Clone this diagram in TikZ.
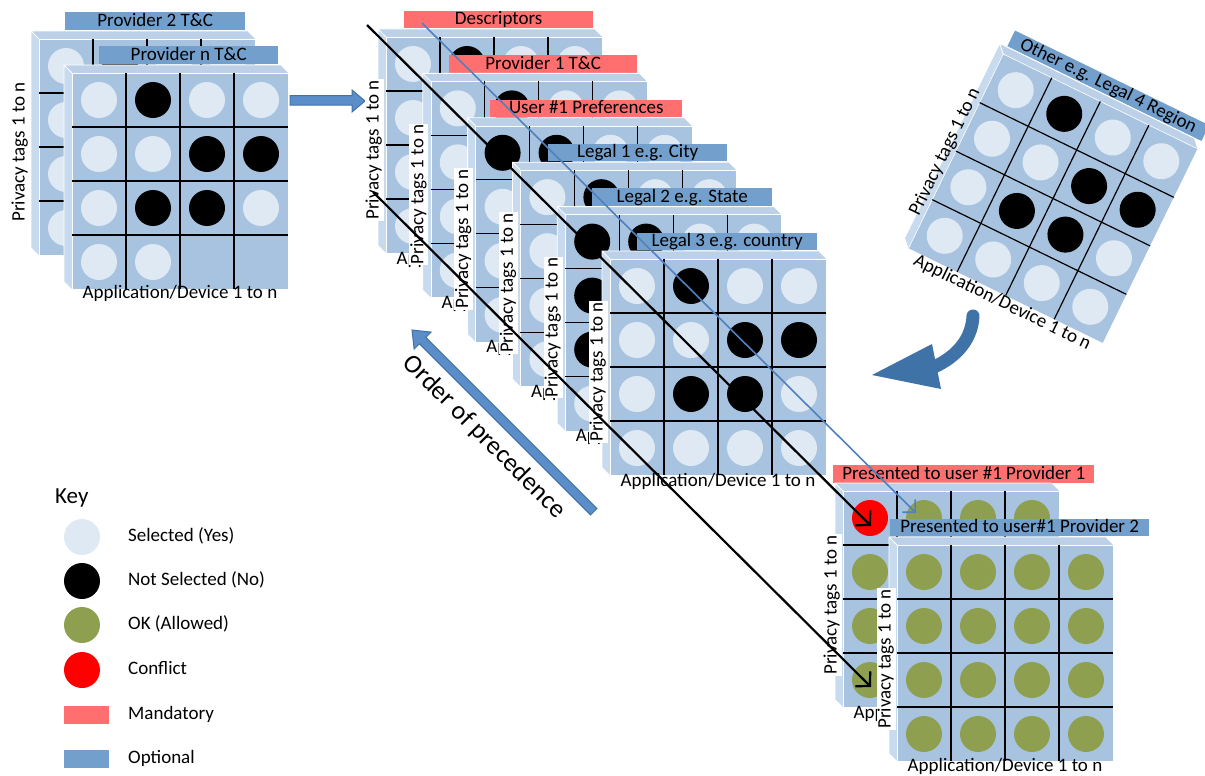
\documentclass[tikz,border=0pt]{standalone}
\usepackage{fontspec}
\setmainfont{Carlito}
\usetikzlibrary{arrows.meta}
\definecolor{face}{HTML}{A7C3DF}
\definecolor{bevtop}{HTML}{BCD1E7}
\definecolor{bevleft}{HTML}{C8DAED}
\definecolor{cl}{HTML}{DFE9F3}
\definecolor{cg}{HTML}{8EA04F}
\definecolor{cr}{HTML}{FF0000}
\definecolor{mand}{HTML}{FF6F6F}
\definecolor{opt}{HTML}{729FCB}
\definecolor{arrb}{HTML}{4F81BD}
\definecolor{arrf}{HTML}{5B8DC8}
\definecolor{arrd}{HTML}{3F73A8}
\newcommand\fs{\fontsize{19}{19}\selectfont}
\def\patStd{cl,black,cl,cl,cl,cl,black,black,cl,black,black,cl,cl,cl,cl,cl}
\def\patFront{cl,black,cl,cl,cl,cl,black,black,cl,black,black,cl,cl,cl,none,none}
\def\patUser{black,black,cl,cl,cl,cl,black,black,cl,black,black,cl,cl,cl,cl,cl}
\def\patLegB{black,black,cl,cl,black,cl,black,black,black,black,black,cl,cl,cl,cl,cl}
\def\patA{cr,cg,cg,cg,cg,cg,cg,cg,cg,cg,cg,cg,cg,cg,cg,cg}
\def\patB{cg,cg,cg,cg,cg,cg,cg,cg,cg,cg,cg,cg,cg,cg,cg,cg}
\newcommand\pnl[4]{%
\begin{scope}[shift={(#2,#3)}]
  \fill[bevtop] (0,0) -- (216,0) -- (224,8) -- (8,8) -- cycle;
  \fill[bevleft] (0,0) -- (8,8) -- (8,224) -- (0,216) -- cycle;
  \draw[white, line width=0.8pt] (0,216) -- (0,0) -- (216,0) (0,0) -- (8,8);
  \node[facebox] (#1) at (116,116) {};
  \draw[white, line width=0.6pt] (8,224) -- (8,8) -- (224,8);
  \foreach \cc [count=\ii from 0] in #4 {
    \pgfmathtruncatemacro\col{mod(\ii,4)}
    \pgfmathtruncatemacro\row{floor(\ii/4)}
    \path[fill=\cc] ({35+54*\col},{35+54*\row}) circle[radius=18pt];
  }
  \foreach \k in {1,2,3} {
    \draw[gridl] ({8+54*\k},8) -- ({8+54*\k},224);
    \draw[gridl] (8,{8+54*\k}) -- (224,{8+54*\k});
  }
\end{scope}}
\begin{document}
\begin{tikzpicture}[x=1pt,y=-1pt,
  facebox/.style={fill=face, minimum size=216pt, inner sep=0pt, draw=none},
  gridl/.style={black, line width=1.2pt},
  tbar/.style={fill=#1, minimum height=17.5pt, inner sep=0pt, font=\fs, anchor=north west, text height=14pt, text depth=3.5pt},
  ylab/.style={rotate=90, fill=white, inner xsep=1pt, inner ysep=0pt, font=\fs, text height=14pt, text depth=5pt},
  xlab/.style={font=\fs, inner sep=0pt, anchor=base},
  keyl/.style={font=\fs, anchor=west, inner sep=0pt, text height=13pt, text depth=4pt},
  kcirc/.style={circle, minimum size=36pt, inner sep=0pt, fill=#1},
  krect/.style={minimum width=45pt, minimum height=18pt, inner sep=0pt, fill=#1},
  blkarr/.style={black, line width=2.2pt, -{Straight Barb[length=10pt,width=21pt]}},
  bluarr/.style={arrb, line width=1.6pt, -{Straight Barb[length=9pt,width=18pt]}},
  blockarr/.style={fill=arrf, draw=arrd, line width=1pt, line join=miter}]
\useasboundingbox (0,0) rectangle (1205,776);

% ---------- left group ----------
\node[tbar=opt, minimum width=180pt] (tProv2) at (65,12) {Provider 2 T\&C};
\pnl{pProv2}{31}{31}{\patStd}
\node[ylab] (yProv2) at (20,152) {Privacy tags 1 to n};
\node[tbar=opt, minimum width=179pt] (tProvN) at (99,46) {Provider n T\&C};
\pnl{pProvN}{64}{65}{\patFront}
\node[xlab] (xProvN) at (180,298) {Application/Device 1 to n};

% group arrow
\filldraw[blockarr] (290,95.5) -- (352,95.5) -- (352,90) -- (365,101) -- (352,112) -- (352,105) -- (290,105) -- cycle;

% ---------- middle group ----------
\node[tbar=mand, minimum width=189pt] (tDesc) at (404,10.5) {Descriptors};
\pnl{pDesc}{378}{29}{\patStd}
\node[ylab] (yDesc) at (374,150) {Privacy tags 1 to n};
\node[xlab] (xDesc) at (494,264) {Application/Device 1 to n};

\node[tbar=mand, minimum width=188pt] (tProv1) at (449,55) {Provider 1 T\&C};
\pnl{pProv1}{422.8}{73.4}{\patStd}
\node[ylab] (yProv1) at (418.8,194.4) {Privacy tags 1 to n};
\node[xlab] (xProv1) at (538.8,308.4) {Application/Device 1 to n};

\node[tbar=mand, minimum width=192pt] (tUser) at (490,99.3) {User \#1 Preferences};
\pnl{pUser}{467.6}{117.8}{\patUser}
\node[ylab] (yUser) at (463.6,238.8) {Privacy tags 1 to n};
\node[xlab] (xUser) at (583.6,352.8) {Application/Device 1 to n};

\node[tbar=opt, minimum width=179pt] (tLegA) at (548,143.7) {Legal 1 e.g. City};
\pnl{pLegA}{512.4}{162.2}{\patStd}
\node[ylab] (yLegA) at (508.4,283.2) {Privacy tags 1 to n};
\node[xlab] (xLegA) at (628.4,397.2) {Application/Device 1 to n};

\node[tbar=opt, minimum width=180pt] (tLegB) at (592,188.1) {Legal 2 e.g. State};
\pnl{pLegB}{557.2}{206.6}{\patLegB}
\node[ylab] (yLegB) at (553.2,327.6) {Privacy tags 1 to n};
\node[xlab] (xLegB) at (673.2,441.6) {Application/Device 1 to n};

\node[tbar=opt, minimum width=180pt] (tLegC) at (637,232.5) {Legal 3 e.g. country};
\pnl{pLegC}{602}{251}{\patStd}
\node[ylab] (yLegC) at (598,372) {Privacy tags 1 to n};
\node[xlab] (xLegC) at (718,486) {Application/Device 1 to n};

% ---------- rotated panel ----------
\begin{scope}[shift={(1053,198.5)}, rotate=-26, shift={(-116,-116)}, transform shape]
  \node[tbar=opt, minimum width=216pt] (tOther) at (8,-18.5) {Other e.g. Legal 4 Region};
  \pnl{pOther}{0}{0}{\patStd}
  \node[ylab, fill=none] (yOther) at (-1,121.5) {Privacy tags 1 to n};
  \node[xlab] (xOther) at (116,237) {Application/Device 1 to n};
\end{scope}

% curved arrow
\coordinate (ca1) at (973,316);
\coordinate (ca2) at (934,367);
\draw[arrd, line width=13pt, line cap=round] (ca1) .. controls (972,338) and (958,356) .. (ca2);
\fill[arrd] (872,375) -- (932,344) -- (941,389) -- cycle;

% order of precedence arrow
\begin{scope}[shift={(412,330)}, rotate=-45]
  \filldraw[blockarr] (0,0) -- (15,12) -- (15,4.5) -- (257,4.5) -- (257,-4.5) -- (15,-4.5) -- (15,-12) -- cycle;
\end{scope}
\node[rotate=-45, font=\fontsize{26}{26}\selectfont, inner sep=0pt] (order) at (484,437) {Order of precedence};

% ---------- bottom right group ----------
\node[tbar=mand, minimum width=261pt] (tPresA) at (833,465) {Presented to user \#1 Provider 1};
\pnl{pPresA}{835}{483}{\patA}
\node[ylab] (yPresA) at (832,605) {Privacy tags 1 to n};
\node[xlab] (xPresA) at (951,718) {Application/Device 1 to n};

\node[tbar=opt, minimum width=259pt] (tPresB) at (890,518.5) {Presented to user\#1 Provider 2};
\pnl{pPresB}{889}{537}{\patB}
\node[ylab] (yPresB) at (886,659) {Privacy tags 1 to n};
\node[xlab] (xPresB) at (1005,771) {Application/Device 1 to n};

% ---------- long arrows ----------
\coordinate (b1s) at (367,25);  \coordinate (b1e) at (871,526);
\coordinate (b2s) at (373,192); \coordinate (b2e) at (871,687);
\coordinate (bls) at (422,23);  \coordinate (ble) at (916,513);
\draw[blkarr] (b1s) -- (b1e);
\draw[blkarr] (b2s) -- (b2e);
\draw[bluarr] (bls) -- (ble);

% ---------- key ----------
\node[font=\fontsize{23}{23}\selectfont, anchor=base west, inner sep=0pt] (key) at (55,503) {Key};
\node[kcirc=cl] (k1) at (82,537) {};
\node[kcirc=black] (k2) at (82,581) {};
\node[kcirc=cg] (k3) at (82,625) {};
\node[kcirc=cr] (k4) at (82,670) {};
\node[krect=mand] (k5) at (86.5,715) {};
\node[krect=opt] (k6) at (86.5,759) {};
\node[keyl] (l1) at (128,537) {Selected (Yes)};
\node[keyl] (l2) at (128,581) {Not Selected (No)};
\node[keyl] (l3) at (128,625) {OK (Allowed)};
\node[keyl] (l4) at (128,670) {Conflict};
\node[keyl] (l5) at (128,715) {Mandatory};
\node[keyl] (l6) at (128,759) {Optional};
\end{tikzpicture}
\end{document}
